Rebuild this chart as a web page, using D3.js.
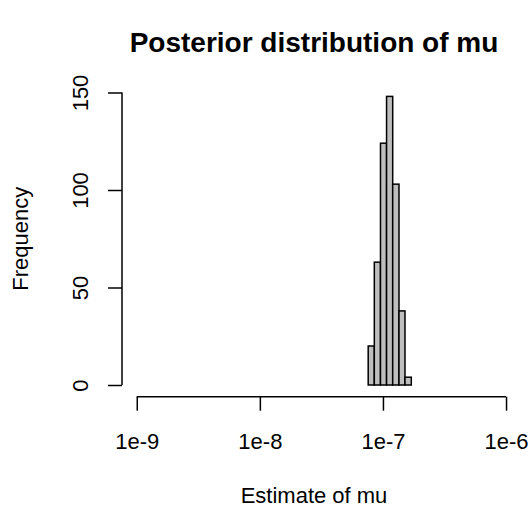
<!DOCTYPE html>
<html>
<head>
<meta charset="utf-8">
<script src="https://cdn.jsdelivr.net/npm/d3@7"></script>
<style>
  html, body { margin: 0; padding: 0; background: #fff; }
  svg { display: block; }
  text { font-family: "Liberation Sans", Arial, Helvetica, sans-serif; fill: #000; }
</style>
</head>
<body>
<svg id="chart" width="532" height="508"></svg>
<script>
// Histogram bin edges (values of mu, log-spaced bins) and counts
const binEdges = [7.59e-8, 8.51e-8, 9.55e-8, 1.07e-7, 1.20e-7, 1.35e-7, 1.51e-7, 1.70e-7];
const counts = [20, 63, 124, 148, 103, 38, 4];
const xTickValues = [1e-9, 1e-8, 1e-7, 1e-6];
const xTickLabels = ["1e-9", "1e-8", "1e-7", "1e-6"];
const yTickValues = [0, 50, 100, 150];
const titleText = "Posterior distribution of mu";
const xLabelText = "Estimate of mu";
const yLabelText = "Frequency";

const svg = d3.select("#chart");
const plot = { left: 122, right: 520.8, top: 80.8, bottom: 396.7 };

const x = d3.scaleLog()
  .domain([Math.pow(10, -9.12), Math.pow(10, -5.88)])
  .range([plot.left, plot.right]);
const y = d3.scaleLinear()
  .domain([-6, 156])
  .range([plot.bottom, plot.top]);

const bins = counts.map((c, i) => ({ x0: binEdges[i], x1: binEdges[i + 1], n: c }));

svg.append("g").selectAll("rect")
  .data(bins)
  .join("rect")
  .attr("x", d => x(d.x0))
  .attr("y", d => y(d.n))
  .attr("width", d => x(d.x1) - x(d.x0))
  .attr("height", d => y(0) - y(d.n))
  .attr("fill", "#bebebe")
  .attr("stroke", "#000")
  .attr("stroke-width", 1.5);

const tickLen = 14;
const fs = 22;

// X axis
const xAxis = d3.axisBottom(x)
  .tickValues(xTickValues)
  .tickFormat((d, i) => xTickLabels[i])
  .tickSizeInner(tickLen)
  .tickSizeOuter(0);
const gx = svg.append("g")
  .attr("transform", `translate(0,${plot.bottom})`)
  .call(xAxis);
gx.select(".domain").remove();
gx.append("line")
  .attr("x1", x(xTickValues[0])).attr("x2", x(xTickValues[xTickValues.length - 1]))
  .attr("y1", 0).attr("y2", 0)
  .attr("stroke", "#000").attr("stroke-width", 1.5);
gx.selectAll(".tick line").attr("stroke", "#000").attr("stroke-width", 1.5);
gx.selectAll(".tick text")
  .attr("y", 44.5)
  .attr("dy", "0.36em")
  .style("font-family", "'Liberation Sans', Arial, sans-serif")
  .style("font-size", fs + "px")
  .attr("fill", "#000");

// Y axis
const yAxis = d3.axisLeft(y)
  .tickValues(yTickValues)
  .tickFormat(d3.format("d"))
  .tickSizeInner(tickLen)
  .tickSizeOuter(0)
  .tickPadding(0);
const gy = svg.append("g")
  .attr("transform", `translate(${plot.left},0)`)
  .call(yAxis);
gy.select(".domain").remove();
gy.append("line")
  .attr("x1", 0).attr("x2", 0)
  .attr("y1", y(yTickValues[0])).attr("y2", y(yTickValues[yTickValues.length - 1]))
  .attr("stroke", "#000").attr("stroke-width", 1.5);
gy.selectAll(".tick line").attr("stroke", "#000").attr("stroke-width", 1.5);
gy.selectAll(".tick text")
  .attr("x", null).attr("dy", "0.36em")
  .attr("text-anchor", "middle")
  .attr("transform", "translate(-42,0) rotate(-90)")
  .style("font-family", "'Liberation Sans', Arial, sans-serif")
  .style("font-size", fs + "px")
  .attr("fill", "#000");

const cx = 314;
const cy = (plot.top + plot.bottom) / 2;

svg.append("text")
  .attr("x", cx).attr("y", 42)
  .attr("dy", "0.36em")
  .attr("text-anchor", "middle")
  .style("font-size", "28px")
  .style("font-weight", "bold")
  .text(titleText);

svg.append("text")
  .attr("x", cx).attr("y", 495)
  .attr("dy", "0.36em")
  .attr("text-anchor", "middle")
  .style("font-size", fs + "px")
  .text(xLabelText);

svg.append("text")
  .attr("transform", `translate(20,${cy}) rotate(-90)`)
  .attr("dy", "0.36em")
  .attr("text-anchor", "middle")
  .style("font-size", fs + "px")
  .text(yLabelText);
</script>
</body>
</html>
